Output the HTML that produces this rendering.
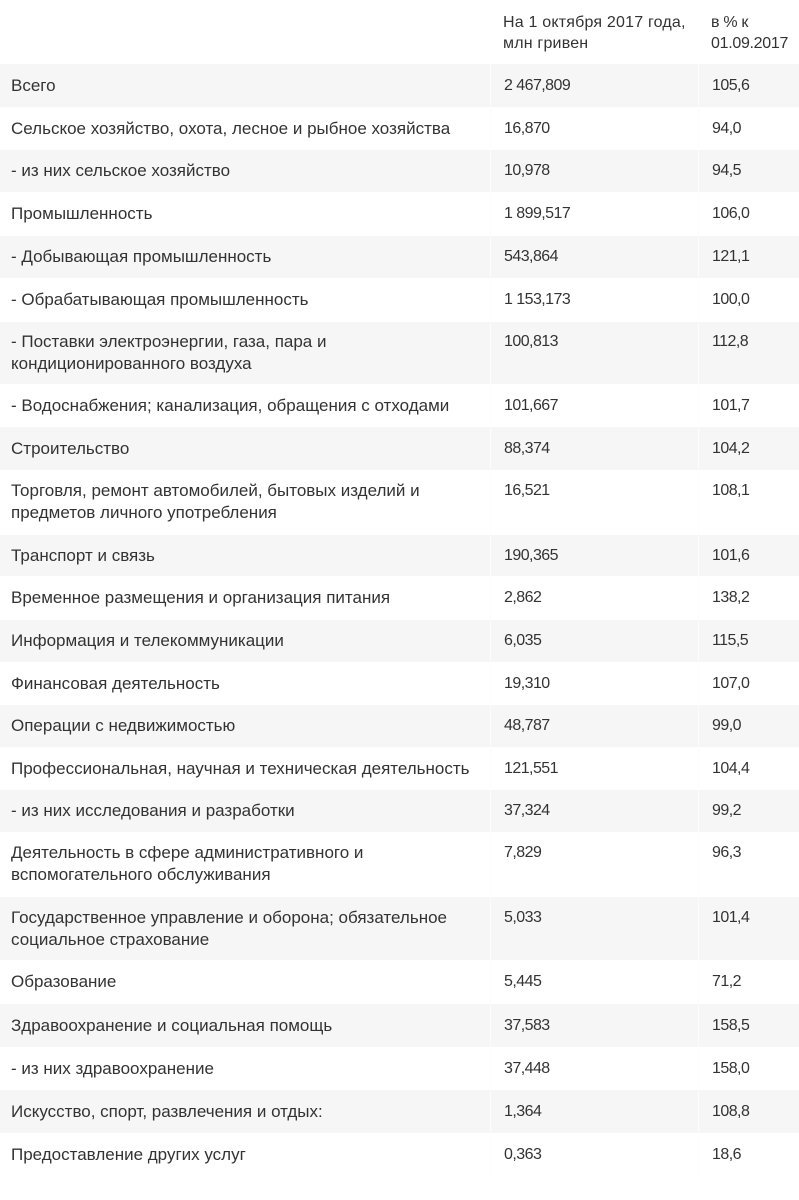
<!DOCTYPE html>
<html>
<head>
<meta charset="utf-8">
<style>
  html, body { margin:0; padding:0; background:#fff; }
  body { width:799px; height:1200px; position:relative; overflow:hidden;
         font-family:"Liberation Sans", "DejaVu Sans", sans-serif; color:#333; }
  .row { position:absolute; left:0; width:799px; }
  .g { background:#f6f6f6; }
  .c { position:absolute; top:0; bottom:0; display:flex; align-items:center; }
  .c1 { left:0; width:490px; padding-left:11px; box-sizing:border-box; font-size:17px; letter-spacing:0px; line-height:21.5px; }
  .c2 { left:490px; width:208px; padding-left:13px; box-sizing:border-box; font-size:16px; letter-spacing:-0.55px; line-height:21.5px; border-left:1px solid #fcfcfc; }
  .c3 { left:698px; width:101px; padding-left:13px; box-sizing:border-box; font-size:16px; letter-spacing:-0.55px; line-height:21.5px; border-left:1px solid #fcfcfc; }
  .hd { font-size:16px; line-height:21px; padding-top:2px; }
</style>
</head>
<body>
  <div class="row" style="top:0;height:64px;">
    <div class="c c2 hd" style="letter-spacing:0.2px;border-left:none;">На 1 октября 2017 года,<br>млн гривен</div>
    <div class="c c3 hd" style="letter-spacing:-0.3px;border-left:none;">в % к<br>01.09.2017</div>
  </div>

  <div class="row g" style="top:64px;height:43px;"><div class="c c1">Всего</div><div class="c c2">2 467,809</div><div class="c c3">105,6</div></div>
  <div class="row" style="top:107px;height:43px;"><div class="c c1">Сельское хозяйство, охота, лесное и рыбное хозяйства</div><div class="c c2">16,870</div><div class="c c3">94,0</div></div>
  <div class="row g" style="top:150px;height:42px;"><div class="c c1">- из них сельское хозяйство</div><div class="c c2">10,978</div><div class="c c3">94,5</div></div>
  <div class="row" style="top:192px;height:44px;"><div class="c c1">Промышленность</div><div class="c c2">1 899,517</div><div class="c c3">106,0</div></div>
  <div class="row g" style="top:236px;height:42px;"><div class="c c1">- Добывающая промышленность</div><div class="c c2">543,864</div><div class="c c3">121,1</div></div>
  <div class="row" style="top:278px;height:44px;"><div class="c c1">- Обрабатывающая промышленность</div><div class="c c2">1 153,173</div><div class="c c3">100,0</div></div>
  <div class="row g" style="top:322px;height:62px;"><div class="c c1" style="align-items:flex-start;padding-top:9px;">- Поставки электроэнергии, газа, пара и<br>кондиционированного воздуха</div><div class="c c2" style="align-items:flex-start;padding-top:9px;">100,813</div><div class="c c3" style="align-items:flex-start;padding-top:9px;">112,8</div></div>
  <div class="row" style="top:384px;height:43px;"><div class="c c1">- Водоснабжения; канализация, обращения с отходами</div><div class="c c2">101,667</div><div class="c c3">101,7</div></div>
  <div class="row g" style="top:427px;height:43px;"><div class="c c1">Строительство</div><div class="c c2">88,374</div><div class="c c3">104,2</div></div>
  <div class="row" style="top:470px;height:65px;"><div class="c c1" style="align-items:flex-start;padding-top:10px;">Торговля, ремонт автомобилей, бытовых изделий и<br>предметов личного употребления</div><div class="c c2" style="align-items:flex-start;padding-top:10px;">16,521</div><div class="c c3" style="align-items:flex-start;padding-top:10px;">108,1</div></div>
  <div class="row g" style="top:535px;height:41px;"><div class="c c1">Транспорт и связь</div><div class="c c2">190,365</div><div class="c c3">101,6</div></div>
  <div class="row" style="top:576px;height:44px;"><div class="c c1">Временное размещения и организация питания</div><div class="c c2">2,862</div><div class="c c3">138,2</div></div>
  <div class="row g" style="top:620px;height:42px;"><div class="c c1">Информация и телекоммуникации</div><div class="c c2">6,035</div><div class="c c3">115,5</div></div>
  <div class="row" style="top:662px;height:43px;"><div class="c c1">Финансовая деятельность</div><div class="c c2">19,310</div><div class="c c3">107,0</div></div>
  <div class="row g" style="top:705px;height:42px;"><div class="c c1">Операции с недвижимостью</div><div class="c c2">48,787</div><div class="c c3">99,0</div></div>
  <div class="row" style="top:747px;height:43px;"><div class="c c1">Профессиональная, научная и техническая деятельность</div><div class="c c2">121,551</div><div class="c c3">104,4</div></div>
  <div class="row g" style="top:790px;height:42px;"><div class="c c1">- из них исследования и разработки</div><div class="c c2">37,324</div><div class="c c3">99,2</div></div>
  <div class="row" style="top:832px;height:65px;"><div class="c c1" style="align-items:flex-start;padding-top:10px;">Деятельность в сфере административного и<br>вспомогательного обслуживания</div><div class="c c2" style="align-items:flex-start;padding-top:10px;">7,829</div><div class="c c3" style="align-items:flex-start;padding-top:10px;">96,3</div></div>
  <div class="row g" style="top:897px;height:63px;"><div class="c c1" style="align-items:flex-start;padding-top:10px;">Государственное управление и оборона; обязательное<br>социальное страхование</div><div class="c c2" style="align-items:flex-start;padding-top:10px;">5,033</div><div class="c c3" style="align-items:flex-start;padding-top:10px;">101,4</div></div>
  <div class="row" style="top:960px;height:44px;"><div class="c c1">Образование</div><div class="c c2">5,445</div><div class="c c3">71,2</div></div>
  <div class="row g" style="top:1004px;height:43px;"><div class="c c1">Здравоохранение и социальная помощь</div><div class="c c2">37,583</div><div class="c c3">158,5</div></div>
  <div class="row" style="top:1047px;height:43px;"><div class="c c1">- из них здравоохранение</div><div class="c c2">37,448</div><div class="c c3">158,0</div></div>
  <div class="row g" style="top:1090px;height:43px;"><div class="c c1">Искусство, спорт, развлечения и отдых:</div><div class="c c2">1,364</div><div class="c c3">108,8</div></div>
  <div class="row" style="top:1133px;height:43px;"><div class="c c1">Предоставление других услуг</div><div class="c c2">0,363</div><div class="c c3">18,6</div></div>
</body>
</html>
